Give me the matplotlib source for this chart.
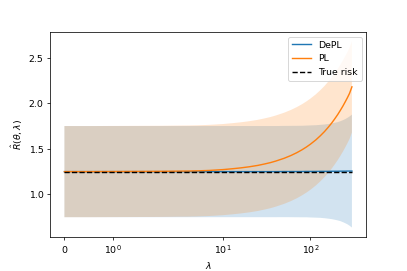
import numpy as np
import matplotlib
matplotlib.use("Agg")
import matplotlib.pyplot as plt
from matplotlib.ticker import MultipleLocator

# lambda grid and values
lam = [0, 0.5, 1, 1.5, 2, 3, 4, 5, 7, 10, 13, 16, 20, 25, 30, 35, 40, 50,
       60, 70, 80, 90, 100, 115, 130, 145, 160, 175, 190, 205, 220, 235,
       250, 265, 280, 298]

depl_mean = [1.25, 1.25, 1.25, 1.25, 1.25, 1.25, 1.25, 1.25, 1.25, 1.25,
             1.25, 1.25, 1.25, 1.25, 1.25, 1.25, 1.25, 1.251, 1.251, 1.251,
             1.251, 1.252, 1.252, 1.252, 1.253, 1.253, 1.253, 1.254, 1.254,
             1.254, 1.255, 1.255, 1.255, 1.256, 1.256, 1.256]
depl_std = [0.5, 0.5, 0.5, 0.5, 0.5, 0.5, 0.5, 0.5, 0.5, 0.5, 0.5, 0.5,
            0.5, 0.5, 0.5, 0.5, 0.5, 0.5005, 0.501, 0.5015, 0.502, 0.503,
            0.505, 0.507, 0.510, 0.514, 0.519, 0.525, 0.532, 0.539, 0.548,
            0.559, 0.571, 0.584, 0.599, 0.619]

pl_mean = [1.250, 1.250, 1.251, 1.252, 1.253, 1.255, 1.256, 1.258, 1.263,
           1.272, 1.282, 1.291, 1.303, 1.318, 1.334, 1.349, 1.365, 1.396,
           1.427, 1.458, 1.489, 1.520, 1.551, 1.597, 1.644, 1.690, 1.737,
           1.783, 1.830, 1.876, 1.923, 1.969, 2.016, 2.062, 2.109, 2.180]
pl_std = [0.5, 0.5, 0.5, 0.5, 0.5, 0.5, 0.5, 0.5, 0.5, 0.5, 0.5, 0.5,
          0.5, 0.5, 0.5, 0.5, 0.5, 0.5, 0.5, 0.5, 0.5, 0.5, 0.5, 0.5,
          0.5, 0.5, 0.5, 0.5, 0.5, 0.5, 0.5, 0.5, 0.5, 0.5, 0.5, 0.5]

true_risk = 1.245

lam = np.array(lam)
depl_mean, depl_std = np.array(depl_mean), np.array(depl_std)
pl_mean, pl_std = np.array(pl_mean), np.array(pl_std)

fig, ax = plt.subplots(figsize=(6, 4))
fig.subplots_adjust(left=0.123, right=0.9, top=0.881, bottom=0.126)

ax.plot(lam, depl_mean, label="DePL")
ax.fill_between(lam, depl_mean - depl_std, depl_mean + depl_std, alpha=0.2)
ax.plot(lam, pl_mean, label="PL")
ax.fill_between(lam, pl_mean - pl_std, pl_mean + pl_std, alpha=0.2)
ax.plot(lam, np.full(len(lam), true_risk), "k--", label="True risk")

ax.set_xscale("symlog")
ax.yaxis.set_major_locator(MultipleLocator(0.5))
ax.set_xlabel(r"$\lambda$")
ax.set_ylabel(r"$\hat{R}(\theta, \lambda)$")
ax.legend(loc="upper right")

fig.savefig("out.png", dpi=407 / 6)
